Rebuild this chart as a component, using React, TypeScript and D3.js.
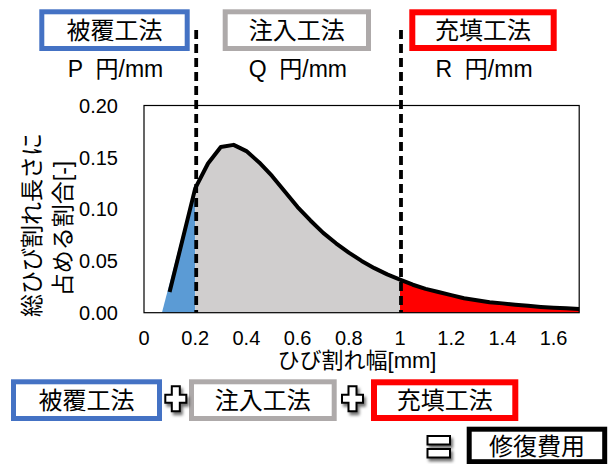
import { useEffect, useRef } from "react";
import * as d3 from "d3";

// crack width [mm] and share of total crack length [-]
const crackWidth = [
  0.1, 0.2, 0.25, 0.3, 0.35, 0.4, 0.45, 0.5, 0.55, 0.6, 0.65, 0.7, 0.75, 0.8,
  0.85, 0.9, 0.95, 1.0, 1.05, 1.1, 1.15, 1.2, 1.25, 1.3, 1.35, 1.4, 1.45, 1.5,
  1.55, 1.6, 1.65, 1.7,
];
const lengthShare = [
  0.02, 0.12, 0.144, 0.16, 0.162, 0.156, 0.145, 0.132, 0.117, 0.102, 0.089,
  0.077, 0.067, 0.058, 0.05, 0.043, 0.037, 0.032, 0.027, 0.023, 0.02, 0.017,
  0.014, 0.012, 0.01, 0.009, 0.0077, 0.0066, 0.0056, 0.0048, 0.0042, 0.0036,
];

// blue (coating) area edge
const coatingX = [0.07, 0.2];
const coatingY = [0, 0.123];

const boundaries = [0.2, 1.0];
const methods = ["被覆工法", "注入工法", "充填工法"];
const unitLabels = ["P  円/mm", "Q  円/mm", "R  円/mm"];
const methodColors = ["#4472C4", "#AEAAAA", "#FF0000"];
const totalLabel = "修復費用";

const xTicks = [0, 0.2, 0.4, 0.6, 0.8, 1, 1.2, 1.4, 1.6];
const yTicks = [0, 0.05, 0.1, 0.15, 0.2];

const FONT = "'Liberation Sans', Arial, 'Noto Sans CJK JP', sans-serif";

export default function App() {
  const svgRef = useRef<SVGSVGElement>(null);

  useEffect(() => {
    if (!svgRef.current) return;
    const svg = d3.select(svgRef.current);
    svg.selectAll("*").remove();

    const left = 144;
    const right = 579.2;
    const top = 105.5;
    const bottom = 312.7;

    const x = d3.scaleLinear().domain([0, 1.7]).range([left, right]);
    const y = d3.scaleLinear().domain([0, 0.2]).range([bottom, top]);

    // drop shadow for the plus / equals signs
    svg
      .append("defs")
      .append("filter")
      .attr("id", "shadow")
      .attr("x", "-50%")
      .attr("y", "-50%")
      .attr("width", "200%")
      .attr("height", "200%")
      .append("feDropShadow")
      .attr("dx", 2)
      .attr("dy", 3)
      .attr("stdDeviation", 1.8)
      .attr("flood-color", "#000")
      .attr("flood-opacity", 0.55);

    const pts = crackWidth.map((w, i) => ({ x: w, y: lengthShare[i] }));

    const area = d3
      .area<{ x: number; y: number }>()
      .x((d) => x(d.x))
      .y0(y(0))
      .y1((d) => y(d.y));

    const line = d3
      .line<{ x: number; y: number }>()
      .x((d) => x(d.x))
      .y((d) => y(d.y));

    // coating area (triangle closed at x = 0.2)
    const blue = coatingX.map((w, i) => ({ x: w, y: coatingY[i] }));
    blue.push({ x: coatingX[1], y: 0 });
    svg
      .append("path")
      .attr("d", (line(blue) as string) + "Z")
      .attr("fill", "#5B9BD5");

    // injection area
    svg
      .append("path")
      .attr("d", area(pts.filter((d) => d.x >= boundaries[0] && d.x <= boundaries[1])) as string)
      .attr("fill", "#D0CECE");

    // filling area
    svg
      .append("path")
      .attr("d", area(pts.filter((d) => d.x >= boundaries[1])) as string)
      .attr("fill", "#FF0000");

    // plot border
    svg
      .append("rect")
      .attr("x", left)
      .attr("y", top)
      .attr("width", right - left)
      .attr("height", bottom - top)
      .attr("fill", "none")
      .attr("stroke", "#000")
      .attr("stroke-width", 1.2);

    // distribution line
    svg
      .append("path")
      .attr("d", line(pts) as string)
      .attr("fill", "none")
      .attr("stroke", "#000")
      .attr("stroke-width", 4)
      .attr("stroke-linejoin", "round");

    // dashed boundaries
    boundaries.forEach((b) => {
      svg
        .append("line")
        .attr("x1", x(b) + 1)
        .attr("x2", x(b) + 1)
        .attr("y1", 30)
        .attr("y2", bottom)
        .attr("stroke", "#000")
        .attr("stroke-width", 3.8)
        .attr("stroke-dasharray", "9,5");
    });

    // y ticks
    yTicks.forEach((t) => {
      svg
        .append("text")
        .attr("x", 118)
        .attr("y", y(t))
        .attr("dy", "0.36em")
        .attr("text-anchor", "end")
        .attr("font-size", "20px")
        .attr("font-family", FONT)
        .text(d3.format(".2f")(t));
    });

    // x ticks
    xTicks.forEach((t) => {
      svg
        .append("text")
        .attr("x", x(t))
        .attr("y", 345)
        .attr("text-anchor", "middle")
        .attr("font-size", "20px")
        .attr("font-family", FONT)
        .text(String(t));
    });

    // axis titles
    svg
      .append("text")
      .attr("x", 357)
      .attr("y", 368)
      .attr("text-anchor", "middle")
      .attr("font-size", "22px")
      .attr("font-family", FONT)
      .text("ひび割れ幅[mm]");

    const yTitle = [
      { text: "総ひび割れ長さに", cx: 31.7, cy: 225 },
      { text: "占める割合[-]", cx: 63, cy: 228.5 },
    ];
    yTitle.forEach((t) => {
      svg
        .append("text")
        .attr("transform", `translate(${t.cx},${t.cy}) rotate(-90)`)
        .attr("text-anchor", "middle")
        .attr("dy", "0.36em")
        .attr("font-size", "23px")
        .attr("font-family", FONT)
        .text(t.text);
    });

    // top method boxes
    const topBoxes = [
      { x0: 39.3, x1: 189.7 },
      { x0: 222.7, x1: 371 },
      { x0: 409.3, x1: 556.7 },
    ];
    topBoxes.forEach((b, i) => {
      const sw = i === 2 ? 6 : 5;
      svg
        .append("rect")
        .attr("x", b.x0 + sw / 2)
        .attr("y", 9.3 + sw / 2)
        .attr("width", b.x1 - b.x0 - sw)
        .attr("height", 41.7 - sw)
        .attr("fill", "#fff")
        .attr("stroke", methodColors[i])
        .attr("stroke-width", sw);
      const cx = (b.x0 + b.x1) / 2;
      svg
        .append("text")
        .attr("x", cx)
        .attr("y", 30)
        .attr("dy", "0.36em")
        .attr("text-anchor", "middle")
        .attr("font-size", "24px")
        .attr("font-family", FONT)
        .text(methods[i]);
      svg
        .append("text")
        .attr("x", cx + 1)
        .attr("y", 77)
        .attr("text-anchor", "middle")
        .attr("font-size", "23px")
        .attr("font-family", FONT)
        .style("white-space", "pre")
        .text(unitLabels[i]);
    });

    // bottom equation boxes
    const bottomBoxes = [
      { x0: 11, x1: 162 },
      { x0: 189, x1: 336.7 },
      { x0: 371, x1: 518.3 },
    ];
    bottomBoxes.forEach((b, i) => {
      const sw = i === 2 ? 6 : 5;
      svg
        .append("rect")
        .attr("x", b.x0 + sw / 2)
        .attr("y", 379.3 + sw / 2)
        .attr("width", b.x1 - b.x0 - sw)
        .attr("height", 41.7 - sw)
        .attr("fill", "#fff")
        .attr("stroke", methodColors[i])
        .attr("stroke-width", sw);
      svg
        .append("text")
        .attr("x", (b.x0 + b.x1) / 2)
        .attr("y", 400)
        .attr("dy", "0.36em")
        .attr("text-anchor", "middle")
        .attr("font-size", "24px")
        .attr("font-family", FONT)
        .text(methods[i]);
    });

    // plus signs
    [175.8, 352.5].forEach((cx) => {
      const cy = 398.8;
      const hw = 10.5;
      const hh = 12.5;
      const a = 4;
      const p = [
        [cx - a, cy - hh],
        [cx + a, cy - hh],
        [cx + a, cy - a],
        [cx + hw, cy - a],
        [cx + hw, cy + a],
        [cx + a, cy + a],
        [cx + a, cy + hh],
        [cx - a, cy + hh],
        [cx - a, cy + a],
        [cx - hw, cy + a],
        [cx - hw, cy - a],
        [cx - a, cy - a],
      ];
      svg
        .append("path")
        .attr("d", "M" + p.map((q) => q.join(",")).join("L") + "Z")
        .attr("fill", "#fff")
        .attr("stroke", "#000")
        .attr("stroke-width", 2)
        .attr("filter", "url(#shadow)");
    });

    // equals sign
    const eq = svg.append("g").attr("filter", "url(#shadow)");
    [436, 449].forEach((yy) => {
      eq.append("rect")
        .attr("x", 427.5)
        .attr("y", yy)
        .attr("width", 22.5)
        .attr("height", 8.5)
        .attr("fill", "#fff")
        .attr("stroke", "#000")
        .attr("stroke-width", 2);
    });

    // total cost box
    svg
      .append("rect")
      .attr("x", 469.2)
      .attr("y", 429.2)
      .attr("width", 135.5)
      .attr("height", 32.5)
      .attr("fill", "#fff")
      .attr("stroke", "#000")
      .attr("stroke-width", 5);
    svg
      .append("text")
      .attr("x", 537)
      .attr("y", 446)
      .attr("dy", "0.36em")
      .attr("text-anchor", "middle")
      .attr("font-size", "24px")
      .attr("font-family", FONT)
      .text(totalLabel);
  }, []);

  return (
    <svg
      ref={svgRef}
      width="608"
      height="464"
      style={{ position: "absolute", left: 0, top: 0, background: "#fff" }}
    ></svg>
  );
}
